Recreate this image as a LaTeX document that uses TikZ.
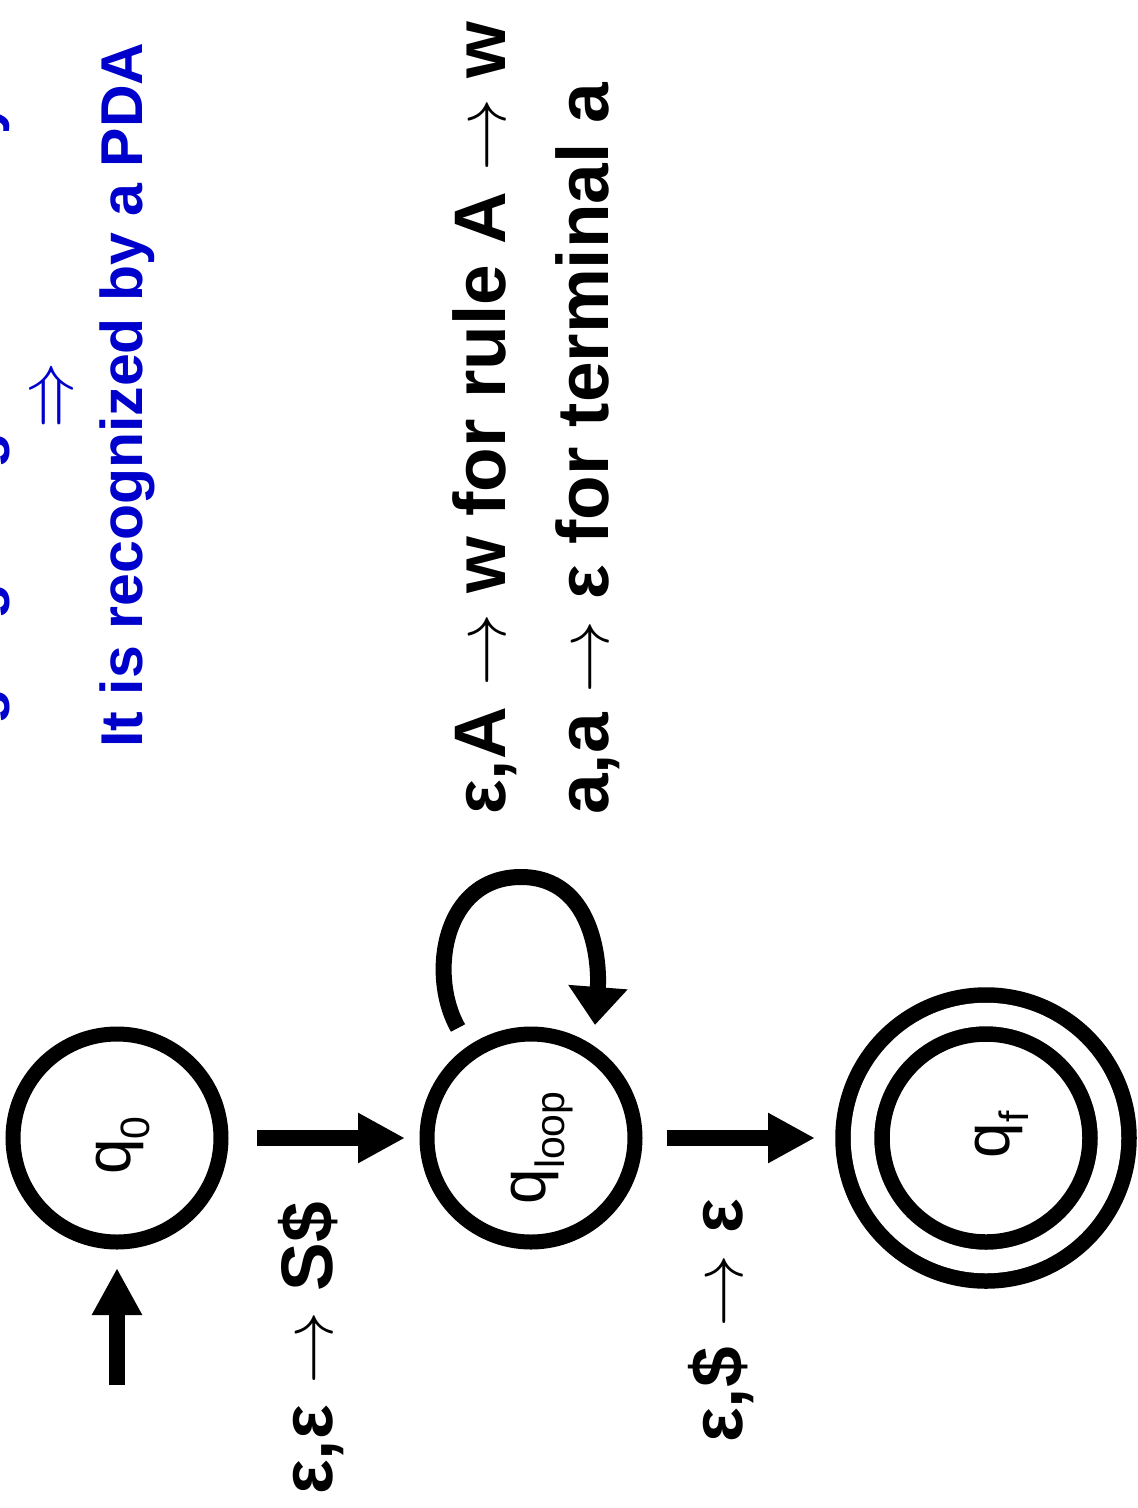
\documentclass[tikz,border=0pt]{standalone}
\usepackage{fontspec}
\setmainfont{Liberation Sans}
\usetikzlibrary{arrows.meta}
\definecolor{slideblue}{RGB}{0,0,204}
\newcommand{\sbs}[1]{\raisebox{-19pt}{\fontsize{41}{41}\selectfont #1}}
\newcommand{\arr}{{\fontsize{10}{12}\selectfont\scalebox{7.3}{$\rightarrow$}}}
\newcommand{\impl}{{\fontsize{10}{12}\selectfont\scalebox{6.6}[8]{$\Rightarrow$}}}
\tikzset{
  state/.style={circle, draw=black, line width=15pt, minimum size=208pt,
    inner sep=0pt, outer sep=0pt},
  final/.style={circle, draw=black, double=white, double distance=23.5pt,
    line width=15.5pt, minimum size=247pt, inner sep=0pt, outer sep=0pt},
  statelbl/.style={rotate=90, anchor=base, inner sep=0pt,
    font=\fontsize{64}{76}\selectfont},
  bigarrow/.style={line width=16pt, -{Triangle[length=47pt,width=47pt]}},
  loopline/.style={line width=16pt, -{Triangle[length=38pt,width=57pt]}},
  bluetext/.style={rotate=90, anchor=base, inner sep=0pt, text=slideblue,
    font=\fontsize{59}{71}\selectfont\bfseries},
  edgelbl/.style={rotate=90, anchor=base west, inner sep=0pt,
    font=\fontsize{73}{88}\selectfont\bfseries},
}
\begin{document}
\begin{tikzpicture}[x=1pt,y=1pt]
  \fill[white] (0,0) rectangle (1138,-1508);
  \useasboundingbox (0,0) rectangle (1138,-1508);

  % headline
  \node[bluetext] (line1) at (-2,-395) {Language is generated by CFG};
  \node[rotate=90, inner sep=0pt, text=slideblue] (implies) at (57,-395) {\impl};
  \node[bluetext] (line2) at (142,-395) {It is recognized by a PDA};

  % transitions of the looping state
  \node[edgelbl] (rule1) at (505,-815) {ε,A \arr{} w for rule A \arr{} w};
  \node[edgelbl] (rule2) at (608,-815) {a,a \arr{} ε for terminal a};

  % states
  \node[state] (q0) at (117,-1138) {};
  \node[state] (qloop) at (531,-1138) {};
  \node[final] (qf) at (986,-1138) {};
  \node[statelbl] (q0t) at ([shift={(13,-7.5)}]q0.center) {q\sbs{0}};
  \node[statelbl] (qloopt) at ([shift={(14,-10)}]qloop.center) {q\sbs{loop}};
  \node[statelbl] (qft) at ([shift={(23,3)}]qf.center) {q\sbs{f}};

  % edges
  \coordinate (init) at ([yshift=-247pt]q0.center);
  \draw[bigarrow, shorten >=26pt] (init) -- (q0);
  \draw[bigarrow, shorten <=36pt, shorten >=22pt] (q0) -- (qloop);
  \draw[bigarrow, shorten <=32pt, shorten >=47.5pt] (qloop) -- (qf);
  \draw[loopline]
    ([shift={(-73,110)}]qloop.center)
    .. controls ([shift={(-103,163)}]qloop.center)
       and ([shift={(-88,261)}]qloop.center)
    .. ([shift={(-10,261)}]qloop.center)
    .. controls ([shift={(61,261)}]qloop.center)
       and ([shift={(69,178)}]qloop.center)
    .. ([shift={(64,113)}]qloop.center);

  % edge labels
  \node[edgelbl] (push) at (332,-1495) {ε,ε \arr{} S\$};
  \node[edgelbl] (pop) at (742,-1443) {ε,\$ \arr{} ε};
\end{tikzpicture}
\end{document}
